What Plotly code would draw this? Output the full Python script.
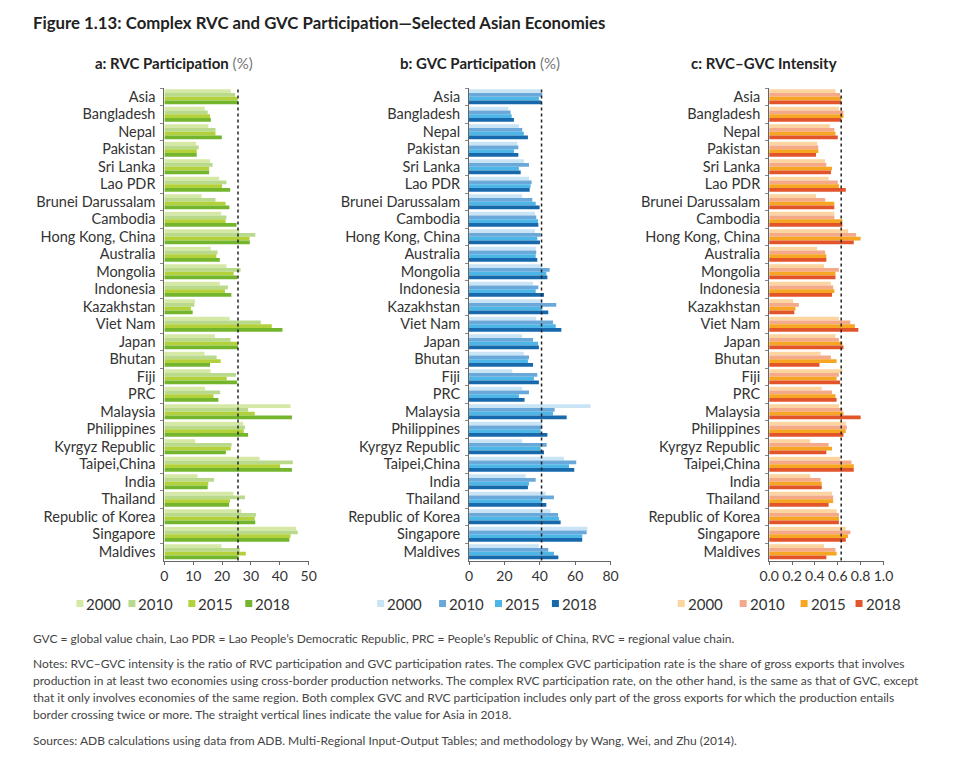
import plotly.graph_objects as go

categories = ["Asia", "Bangladesh", "Nepal", "Pakistan", "Sri Lanka", "Lao PDR",
              "Brunei Darussalam", "Cambodia", "Hong Kong, China", "Australia", "Mongolia",
              "Indonesia", "Kazakhstan", "Viet Nam", "Japan", "Bhutan", "Fiji", "PRC",
              "Malaysia", "Philippines", "Kyrgyz Republic", "Taipei,China", "India",
              "Thailand", "Republic of Korea", "Singapore", "Maldives"]
years = ["2000", "2010", "2015", "2018"]

# a: RVC participation (%)
rvc_2000 = [23.0, 14.0, 15.2, 11.0, 15.8, 19.0, 12.9, 19.7, 26.0, 16.1, 21.5, 19.2, 10.6, 22.6,
            17.5, 13.9, 16.0, 14.1, 43.7, 27.3, 10.7, 33.0, 11.5, 23.9, 26.7, 45.6, 19.8]
rvc_2010 = [24.5, 15.0, 17.7, 11.9, 16.7, 21.5, 17.7, 21.5, 31.5, 18.4, 26.4, 22.0, 10.4, 33.4,
            22.9, 18.1, 24.8, 19.3, 29.0, 27.9, 23.3, 44.5, 17.2, 27.9, 31.7, 46.2, 26.1]
rvc_2015 = [25.3, 15.8, 17.7, 11.2, 15.5, 20.0, 21.2, 21.2, 29.5, 18.0, 24.0, 21.0, 9.2, 37.2,
            25.5, 19.5, 21.6, 17.0, 31.3, 27.5, 23.0, 40.1, 15.2, 22.7, 31.3, 43.7, 28.2]
rvc_2018 = [25.5, 16.1, 19.9, 11.2, 15.5, 22.8, 22.5, 25.0, 29.6, 19.2, 25.2, 23.2, 9.8, 40.9,
            25.5, 15.8, 25.2, 18.7, 44.2, 29.0, 21.3, 44.2, 15.0, 22.4, 31.5, 43.3, 25.7]

# b: GVC participation (%)
gvc_2000 = [40.5, 22.2, 28.2, 27.3, 31.0, 33.9, 30.1, 37.3, 37.3, 37.7, 41.4, 36.2, 41.4, 38.0,
            30.1, 31.0, 24.5, 30.1, 68.7, 41.4, 30.1, 53.7, 32.0, 43.3, 46.1, 66.9, 39.5]
gvc_2010 = [41.4, 23.5, 30.1, 27.9, 33.9, 35.4, 35.8, 38.0, 40.5, 38.0, 45.6, 39.2, 49.3, 47.5,
            36.2, 33.9, 38.6, 33.9, 48.4, 41.4, 43.9, 60.6, 37.7, 48.0, 50.3, 66.5, 44.8]
gvc_2015 = [39.5, 24.1, 31.0, 25.4, 28.2, 34.8, 37.7, 39.0, 38.6, 37.7, 43.7, 37.7, 41.4, 49.0,
            39.0, 33.3, 36.7, 28.2, 47.5, 40.5, 40.5, 56.5, 33.9, 41.4, 50.8, 64.0, 48.0]
gvc_2018 = [41.0, 25.4, 33.3, 27.9, 29.2, 34.3, 39.9, 39.2, 40.1, 38.6, 44.3, 42.4, 44.8, 52.2,
            39.5, 36.2, 39.5, 31.4, 55.2, 44.3, 42.4, 59.5, 33.3, 43.7, 51.8, 64.0, 50.5]

# c: RVC-GVC intensity
int_2000 = [0.58, 0.61, 0.53, 0.42, 0.49, 0.52, 0.41, 0.57, 0.69, 0.42, 0.48, 0.54, 0.21, 0.61,
            0.58, 0.45, 0.64, 0.46, 0.61, 0.67, 0.36, 0.62, 0.36, 0.55, 0.59, 0.67, 0.48]
int_2010 = [0.62, 0.65, 0.57, 0.43, 0.50, 0.60, 0.49, 0.57, 0.76, 0.49, 0.61, 0.56, 0.26, 0.71,
            0.61, 0.54, 0.61, 0.55, 0.64, 0.68, 0.52, 0.72, 0.45, 0.56, 0.61, 0.71, 0.58]
int_2015 = [0.63, 0.65, 0.58, 0.43, 0.55, 0.61, 0.57, 0.64, 0.80, 0.50, 0.58, 0.57, 0.23, 0.75,
            0.64, 0.59, 0.59, 0.58, 0.65, 0.67, 0.55, 0.74, 0.46, 0.56, 0.61, 0.69, 0.59]
int_2018 = [0.63, 0.63, 0.60, 0.41, 0.54, 0.67, 0.57, 0.64, 0.74, 0.50, 0.58, 0.55, 0.22, 0.78,
            0.65, 0.44, 0.62, 0.59, 0.80, 0.65, 0.50, 0.74, 0.46, 0.52, 0.61, 0.67, 0.50]

asia_2018 = [rvc_2018[0], gvc_2018[0], int_2018[0]]

green = ["#d6e8a6", "#b9d98c", "#b3d13a", "#74b52e"]
blue = ["#c9e4f5", "#6ba8da", "#4db6e6", "#1769ac"]
orange = ["#fbd49f", "#f3a98a", "#f6a623", "#e2552b"]

panels = [
    ([rvc_2000, rvc_2010, rvc_2015, rvc_2018], green, [0, 50], 10, None),
    ([gvc_2000, gvc_2010, gvc_2015, gvc_2018], blue, [0, 80], 20, None),
    ([int_2000, int_2010, int_2015, int_2018], orange, [0, 1.0], 0.2, ".1f"),
]

OFF = 8  # page body margin
W, H = 960 - 2 * OFF, 762 - 2 * OFF
SX, AX = 0.98, 10.6  # observed horizontal placement correction
def px(x):
    return ((x - AX) / SX - OFF) / W
def py(y):
    return 1 - (y - OFF) / H

xdom = [(px(165), px(309.5)), (px(470), px(611.7)), (px(770.5), px(885))]
ydom = (py(560.5), py(88))

fig = go.Figure()
for i, (series, colors, rng, dt, fmt) in enumerate(panels):
    xa = "x" if i == 0 else f"x{i+1}"
    ya = "y" if i == 0 else f"y{i+1}"
    for j, yr in enumerate(years):
        fig.add_trace(go.Bar(
            x=series[j], y=categories, orientation="h", name=yr,
            marker=dict(color=colors[j], line=dict(width=0)),
            xaxis=xa, yaxis=ya, showlegend=False,
        ))
    xkey = "xaxis" if i == 0 else f"xaxis{i+1}"
    ykey = "yaxis" if i == 0 else f"yaxis{i+1}"
    fig.layout[xkey] = dict(
        domain=list(xdom[i]), range=rng, dtick=dt, tick0=0, anchor=ya,
        showline=True, linecolor="#666", linewidth=1, ticks="outside", ticklen=3,
        tickcolor="#666", showgrid=False, zeroline=False,
        tickfont=dict(size=14, color="#333", family="Lato"), tickformat=fmt,
    )
    fig.layout[ykey] = dict(
        domain=list(ydom), anchor=xa, autorange="reversed", type="category",
        showline=True, linecolor="#666", linewidth=1, ticks="outside", ticklen=3,
        tickcolor="#888", tickson="boundaries", showgrid=False, ticklabelstandoff=5,
        tickfont=dict(size=14.5, color="#333", family="Lato"),
    )
    fig.add_shape(type="line", xref=xa, yref=f"{ya} domain", x0=asia_2018[i], x1=asia_2018[i],
                  y0=0, y1=1, line=dict(color="#222", width=1.5, dash="3px,3px"))

    # legend (swatches + labels) below each panel
    leg_sq = [[77, 129, 189, 246], [378, 440, 496, 553], [679, 741, 802, 857]][i]
    for j, yr in enumerate(years):
        x0 = leg_sq[j]
        fig.add_shape(type="rect", xref="paper", yref="paper",
                      x0=px(x0), x1=px(x0 + 7), y0=py(607), y1=py(600),
                      fillcolor=colors[j], line=dict(width=0))
        fig.add_annotation(x=px(x0 + 8), y=py(603.5), xref="paper", yref="paper",
                           xanchor="left", yanchor="middle", text=yr, showarrow=False,
                           font=dict(size=15, color="#333", family="Lato"))

fig.update_layout(
    width=W, height=H, margin=dict(l=0, r=0, t=0, b=0),
    plot_bgcolor="white", paper_bgcolor="white",
    barmode="group", bargap=0.14, bargroupgap=0,
    font=dict(family="Lato", color="#333"),
    showlegend=False,
)

# titles
fig.add_annotation(x=px(31), y=py(22), xref="paper", yref="paper", xanchor="left", yanchor="middle",
                   text="<b>Figure 1.13: Complex RVC and GVC Participation\u2014Selected Asian Economies</b>",
                   showarrow=False, font=dict(size=16.8, color="#222", family="Lato"))
sub = [("a: RVC Participation", " (%)", 174.5), ("b: GVC Participation", " (%)", 481),
       ("c: RVC\u2013GVC Intensity", "", 765)]
for t, u, cx in sub:
    txt = f"<b>{t}</b>" + (f"<span style='color:#777'>{u}</span>" if u else "")
    fig.add_annotation(x=px(cx), y=py(63), xref="paper", yref="paper", xanchor="center",
                       yanchor="middle", text=txt, showarrow=False,
                       font=dict(size=15, color="#222", family="Lato"))

notes_color = "#444"
note_lines = [
    (638, "GVC = global value chain, Lao PDR = Lao People\u2019s Democratic Republic, PRC = People\u2019s Republic of China, RVC = regional value chain."),
    (663, "Notes: RVC\u2013GVC intensity is the ratio of RVC participation and GVC participation rates. The complex GVC participation rate is the share of gross exports that involves"),
    (680, "production in at least two economies using cross-border production networks. The complex RVC participation rate, on the other hand, is the same as that of GVC, except"),
    (697, "that it only involves economies of the same region. Both complex GVC and RVC participation includes only part of the gross exports for which the production entails"),
    (714, "border crossing twice or more. The straight vertical lines indicate the value for Asia in 2018."),
    (740, "Sources: ADB calculations using data from ADB. Multi-Regional Input-Output Tables; and methodology by Wang, Wei, and Zhu (2014)."),
]
for yy, line in note_lines:
    fig.add_annotation(x=px(31), y=py(yy), xref="paper", yref="paper", xanchor="left",
                       yanchor="middle", text=line, showarrow=False, align="left",
                       font=dict(size=12, color=notes_color, family="Lato"))

fig.write_html("out.html")
